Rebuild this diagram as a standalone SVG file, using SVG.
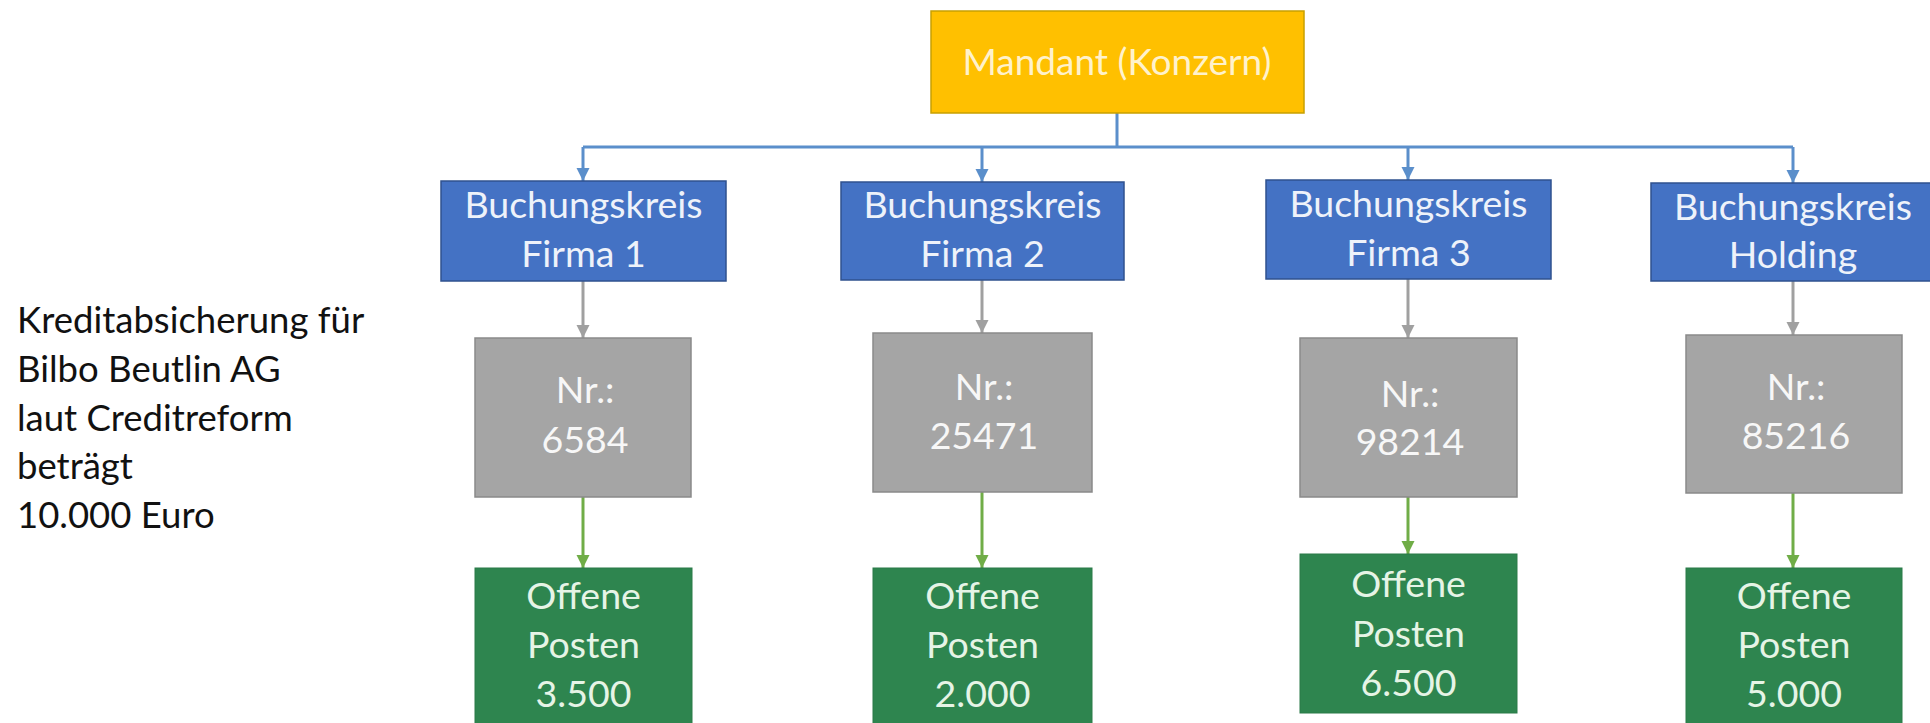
<svg xmlns="http://www.w3.org/2000/svg" width="1930" height="723" viewBox="0 0 1930 723">
<style>
  .t { font-family: Lato, "Open Sans", "Liberation Sans", sans-serif; font-size: 37.5px; text-anchor: middle; }
  .mand rect { fill: #FFC000; stroke: #C8A000; stroke-width: 1.5; }
  .mand text { fill: #FFF2CC; font-size: 37px; }
  .bk rect { fill: #4472C4; stroke: #2F528F; stroke-width: 1.5; }
  .bk text { fill: #EEF2FA; }
  .nr rect { fill: #A5A5A5; stroke: #8A8A8A; stroke-width: 1.5; }
  .nr text { fill: #F7F7F7; }
  .op rect { fill: #2E854F; stroke: #2A7A48; stroke-width: 1; }
  .op text { fill: #E6F4E6; }
  .note { font-family: Lato, "Open Sans", "Liberation Sans", sans-serif; font-size: 36.5px; fill: #111; }
  .cb { fill: none; stroke: #5B8FCB; stroke-width: 3; }
  .cg { fill: none; stroke: #A0A0A0; stroke-width: 3; }
  .cgr { fill: none; stroke: #70AD47; stroke-width: 3; }
</style>
<defs>
  <marker id="ab" viewBox="0 0 10 10" refX="10" refY="5" markerWidth="4.5" markerHeight="4.5" orient="auto" markerUnits="strokeWidth">
    <path d="M0,0 L10,5 L0,10 z" fill="#5B8FCB"/>
  </marker>
  <marker id="ag" viewBox="0 0 10 10" refX="10" refY="5" markerWidth="4.5" markerHeight="4.5" orient="auto" markerUnits="strokeWidth">
    <path d="M0,0 L10,5 L0,10 z" fill="#A0A0A0"/>
  </marker>
  <marker id="agr" viewBox="0 0 10 10" refX="10" refY="5" markerWidth="4.5" markerHeight="4.5" orient="auto" markerUnits="strokeWidth">
    <path d="M0,0 L10,5 L0,10 z" fill="#70AD47"/>
  </marker>
</defs>
<rect x="0" y="0" width="1930" height="723" fill="#FFFFFF"/>

<g id="connectors">
  <path class="cb" d="M1117,113 V147"/>
  <path class="cb" d="M583,147 H1793"/>
  <path class="cb" d="M583,147 V181" marker-end="url(#ab)"/>
  <path class="cb" d="M982,147 V182" marker-end="url(#ab)"/>
  <path class="cb" d="M1408,147 V180" marker-end="url(#ab)"/>
  <path class="cb" d="M1793,147 V183" marker-end="url(#ab)"/>
  <path class="cg" d="M583,281 V338" marker-end="url(#ag)"/>
  <path class="cg" d="M982,280 V333" marker-end="url(#ag)"/>
  <path class="cg" d="M1408,279 V338" marker-end="url(#ag)"/>
  <path class="cg" d="M1793,281 V335" marker-end="url(#ag)"/>
  <path class="cgr" d="M583,497 V568" marker-end="url(#agr)"/>
  <path class="cgr" d="M982,492 V568" marker-end="url(#agr)"/>
  <path class="cgr" d="M1408,497 V554" marker-end="url(#agr)"/>
  <path class="cgr" d="M1793,493 V568" marker-end="url(#agr)"/>
</g>

<g id="mandant" class="mand">
  <rect x="931" y="11" width="373" height="102"/>
  <text class="t" x="1117" y="75">Mandant (Konzern)</text>
</g>

<g id="bk1" class="bk">
  <rect x="441" y="181" width="285" height="100"/>
  <text class="t" x="583.5" y="218">Buchungskreis</text>
  <text class="t" x="583.5" y="267">Firma 1</text>
</g>
<g id="bk2" class="bk">
  <rect x="841" y="182" width="283" height="98"/>
  <text class="t" x="982.5" y="218">Buchungskreis</text>
  <text class="t" x="982.5" y="267">Firma 2</text>
</g>
<g id="bk3" class="bk">
  <rect x="1266" y="180" width="285" height="99"/>
  <text class="t" x="1408.5" y="217">Buchungskreis</text>
  <text class="t" x="1408.5" y="266">Firma 3</text>
</g>
<g id="bk4" class="bk">
  <rect x="1651" y="183" width="285" height="98"/>
  <text class="t" x="1793" y="220">Buchungskreis</text>
  <text class="t" x="1793" y="268">Holding</text>
</g>

<g id="nr1" class="nr">
  <rect x="475" y="338" width="216" height="159"/>
  <text class="t" x="585" y="403">Nr.:</text>
  <text class="t" x="585" y="453">6584</text>
</g>
<g id="nr2" class="nr">
  <rect x="873" y="333" width="219" height="159"/>
  <text class="t" x="984" y="400">Nr.:</text>
  <text class="t" x="984" y="449">25471</text>
</g>
<g id="nr3" class="nr">
  <rect x="1300" y="338" width="217" height="159"/>
  <text class="t" x="1410" y="407">Nr.:</text>
  <text class="t" x="1410" y="455">98214</text>
</g>
<g id="nr4" class="nr">
  <rect x="1686" y="335" width="216" height="158"/>
  <text class="t" x="1796" y="400">Nr.:</text>
  <text class="t" x="1796" y="449">85216</text>
</g>

<g id="op1" class="op">
  <rect x="475" y="568" width="217" height="160"/>
  <text class="t" x="583.5" y="609">Offene</text>
  <text class="t" x="583.5" y="658">Posten</text>
  <text class="t" x="583.5" y="707">3.500</text>
</g>
<g id="op2" class="op">
  <rect x="873" y="568" width="219" height="160"/>
  <text class="t" x="982.5" y="609">Offene</text>
  <text class="t" x="982.5" y="658">Posten</text>
  <text class="t" x="982.5" y="707">2.000</text>
</g>
<g id="op3" class="op">
  <rect x="1300" y="554" width="217" height="159"/>
  <text class="t" x="1408.5" y="597">Offene</text>
  <text class="t" x="1408.5" y="647">Posten</text>
  <text class="t" x="1408.5" y="696">6.500</text>
</g>
<g id="op4" class="op">
  <rect x="1686" y="568" width="216" height="160"/>
  <text class="t" x="1794" y="609">Offene</text>
  <text class="t" x="1794" y="658">Posten</text>
  <text class="t" x="1794" y="707">5.000</text>
</g>

<g id="note">
  <text class="note" x="17" y="333">Kreditabsicherung für</text>
  <text class="note" x="17" y="382">Bilbo Beutlin AG</text>
  <text class="note" x="17" y="431">laut Creditreform</text>
  <text class="note" x="17" y="479">beträgt</text>
  <text class="note" x="17" y="528">10.000 Euro</text>
</g>
</svg>
